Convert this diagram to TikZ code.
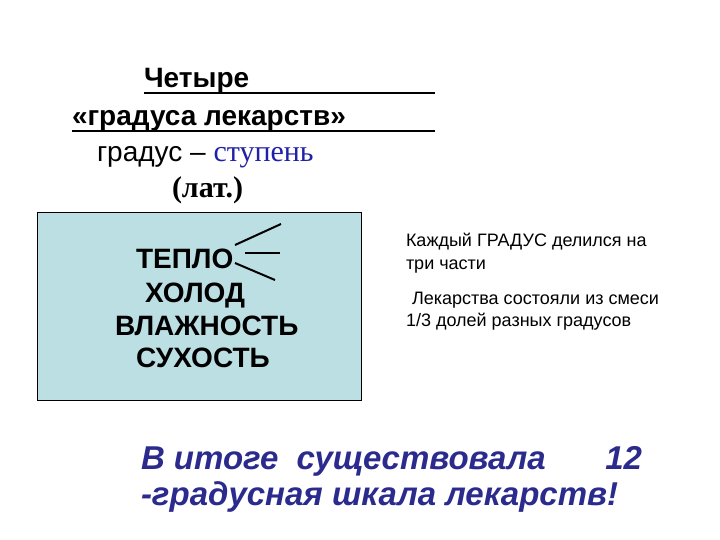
\documentclass[tikz,border=0pt]{standalone}
\usepackage{fontspec}
\setmainfont{Liberation Sans}
\newfontfamily\timesf{Liberation Serif}
\definecolor{boxfill}{HTML}{BCDFE3}
\definecolor{navy}{HTML}{2B2B8E}
\definecolor{stblue}{HTML}{2020A8}
\tikzset{
  txt/.style={anchor=base west, inner sep=0pt, outer sep=0pt},
  bigb/.style={txt, font=\fontsize{28}{33}\selectfont\bfseries},
  small/.style={txt, font=\fontsize{18}{21}\selectfont},
  bottom/.style={txt, font=\fontsize{33}{38}\selectfont\bfseries\itshape, text=navy},
  uline/.style={line width=2.4pt},
  spoke/.style={line width=2pt}
}
\begin{document}
\begin{tikzpicture}[x=1pt,y=-1pt]
\useasboundingbox (0,0) rectangle (720,540);
% title
\node[bigb] (t1) at (144,88) {Четыре};
\node[bigb] (t2) at (72,126) {«градуса лекарств»};
\draw[uline] (144,93) -- (435,93);
\draw[uline] (72,131) -- (435,131);
\node[txt, font=\fontsize{28}{33}\selectfont] (t3) at (97,162) {градус – {\fontsize{30}{33}\selectfont\timesf\color{stblue}ступень}};
\node[txt, font=\fontsize{30}{33}\selectfont\timesf\bfseries] (t4) at (172,197) {(лат.)};
% box
\draw[fill=boxfill, line width=0.8pt] (37,212) rectangle (361,400);
\node[bigb] (q1) at (136,268) {ТЕПЛО};
\node[bigb] (q2) at (145,302) {ХОЛОД};
\node[bigb] (q3) at (115,335) {ВЛАЖНОСТЬ};
\node[bigb] (q4) at (136,367) {СУХОСТЬ};
\draw[spoke] (235,245) -- (281,224);
\draw[spoke] (245,253) -- (280,253);
\draw[spoke] (235,263) -- (275,280);
% right texts
\node[small] (r1) at (406,247) {Каждый ГРАДУС делился на};
\node[small] (r2) at (406,269) {три части};
\node[small] (r3) at (412,304) {Лекарства состояли из смеси};
\node[small] (r4) at (406,326) {1/3 долей разных градусов};
% bottom
\node[bottom] (b1) at (141,469) {В итоге~ существовала};
\node[bottom, anchor=base east] (b2) at (642,469) {12};
\node[bottom] (b3) at (141,505) {-градусная шкала лекарств!};
\end{tikzpicture}
\end{document}
